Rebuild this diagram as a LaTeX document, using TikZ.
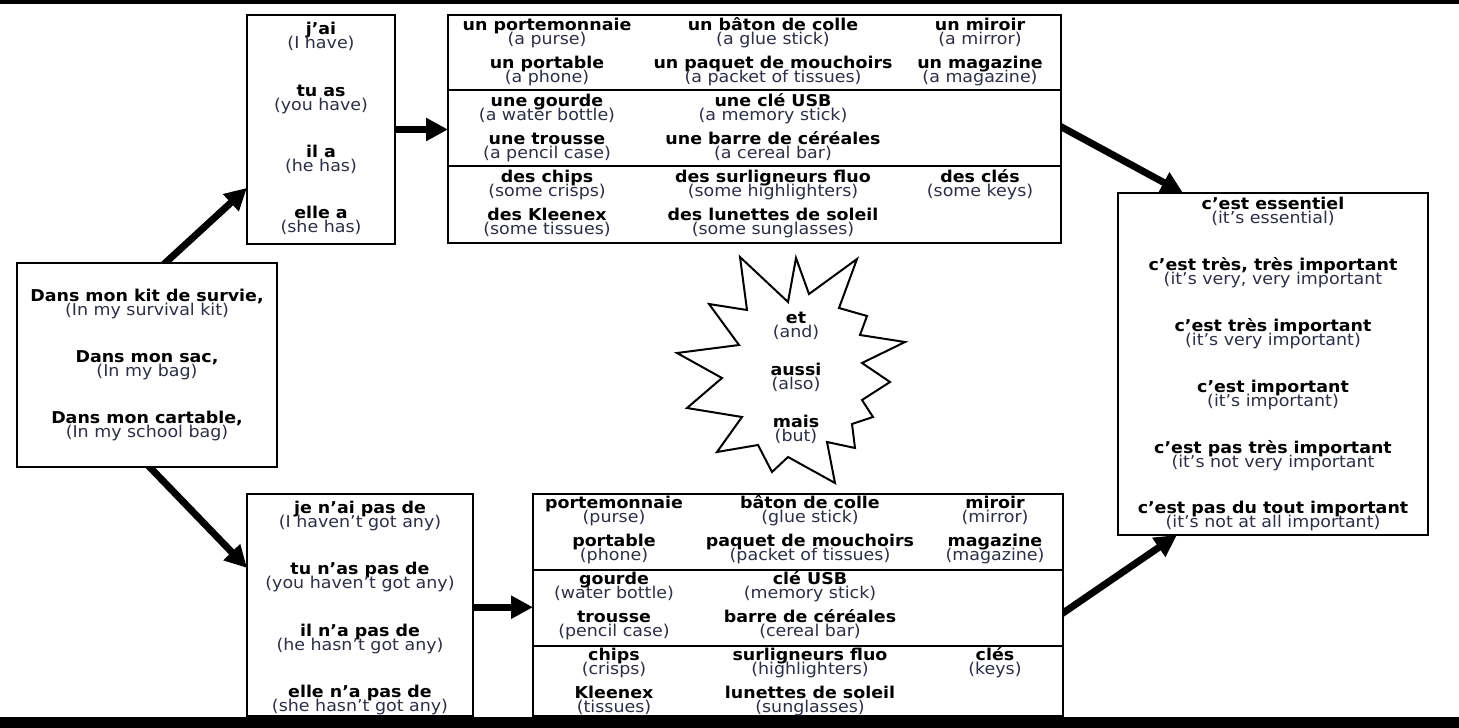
\documentclass[tikz,border=0pt]{standalone}
\usepackage{fontspec}
\setmainfont{DejaVu Sans}[FakeStretch=1.07]
\usetikzlibrary{arrows.meta,calc,backgrounds}
\definecolor{eng}{HTML}{2D2F45}
\newcommand\pr[5]{%
  \node[fr] (#1a) at (#2,#3) {#4};
  \node[en] (#1b) at (#2,#3+14.5) {#5};}
\begin{document}
\begin{tikzpicture}[x=1pt,y=-1pt,
  box/.style={draw=black,line width=2pt,rectangle,inner sep=0pt,outer sep=0pt,fill=white},
  fr/.style={font=\fontsize{16.3}{16.3}\selectfont\bfseries,inner sep=0pt,anchor=base,text=black},
  en/.style={font=\fontsize{16.3}{16.3}\selectfont,inner sep=0pt,anchor=base,text=eng},
  arr/.style={line width=7pt,shorten <=-6pt,-{Triangle[length=22pt,width=22pt]}},
  rule/.style={line width=2pt}]
\useasboundingbox (0,0) rectangle (1459,728);
% rules
\fill[black] (0,0) rectangle (1459,4);
\fill[black] (0,717) rectangle (1459,728);
% boxes
\node[box,minimum width=260,minimum height=204] (src) at (147,365) {};
\node[box,minimum width=148,minimum height=229] (have) at (321,129.5) {};
\node[box,minimum width=226,minimum height=222] (neg) at (360,605) {};
\node[box,minimum width=613,minimum height=228] (tab1) at (754.5,129) {};
\node[box,minimum width=530,minimum height=222] (tab2) at (798,605) {};
\node[box,minimum width=310,minimum height=342] (imp) at (1273,364) {};
% dividers
\draw[rule] (tab1.west |- 0,90) -- (tab1.east |- 0,90);
\draw[rule] (tab1.west |- 0,166) -- (tab1.east |- 0,166);
\draw[rule] (tab2.west |- 0,570) -- (tab2.east |- 0,570);
\draw[rule] (tab2.west |- 0,646) -- (tab2.east |- 0,646);
% star
\draw[line width=2pt,line join=miter,fill=white]
 (740,257) -- (788,302) -- (796,258) -- (809,294) -- (857,259) -- (839,308)
 -- (867,316) -- (860,335) -- (905,342) -- (862,363) -- (890,382) -- (862,400)
 -- (873,417) -- (852,424) -- (855,448) -- (827,442) -- (835,483) -- (788,457)
 -- (772,472) -- (758,445) -- (717,452) -- (742,417) -- (687,408) -- (722,378)
 -- (677,353) -- (739,345) -- (709,304) -- (747,310) -- cycle;
% arrows
\begin{scope}[on background layer]
\draw[arr] ($(src.north west)!0.57!(src.north east)$) -- ($(have.north west)!0.755!(have.south west)$);
\draw[arr] ($(src.south west)!0.51!(src.south east)$) -- ($(neg.north west)!0.333!(neg.south west)$);
\draw[arr] ($(have.north east)!0.5!(have.south east)$) coordinate (h1) -- (h1 -| tab1.west);
\draw[arr] ($(neg.north east)!0.51!(neg.south east)$) coordinate (h2) -- (h2 -| tab2.west);
\draw[arr] ($(tab1.north east)!0.49!(tab1.south east)$) -- ($(imp.north west)!0.21!(imp.north east)$);
\draw[arr] ($(tab2.north east)!0.536!(tab2.south east)$) -- ($(imp.south west)!0.19!(imp.south east)$);
\end{scope}
% left box
\pr{l1}{147}{301}{Dans mon kit de survie,}{(In my survival kit)}
\pr{l2}{147}{362}{Dans mon sac,}{(In my bag)}
\pr{l3}{147}{423}{Dans mon cartable,}{(In my school bag)}
% have
\pr{h1}{321}{34}{j'ai}{(I have)}
\pr{h2}{321}{96}{tu as}{(you have)}
\pr{h3}{321}{157}{il a}{(he has)}
\pr{h4}{321}{218}{elle a}{(she has)}
% neg
\pr{n1}{360}{513}{je n'ai pas de}{(I haven't got any)}
\pr{n2}{360}{574}{tu n'as pas de}{(you haven't got any)}
\pr{n3}{360}{636}{il n'a pas de}{(he hasn't got any)}
\pr{n4}{360}{697}{elle n'a pas de}{(she hasn't got any)}
% table 1
\pr{ta1}{547}{30}{un portemonnaie}{(a purse)}
\pr{ta2}{773}{30}{un bâton de colle}{(a glue stick)}
\pr{ta3}{980}{30}{un miroir}{(a mirror)}
\pr{ta4}{547}{68}{un portable}{(a phone)}
\pr{ta5}{773}{68}{un paquet de mouchoirs}{(a packet of tissues)}
\pr{ta6}{980}{68}{un magazine}{(a magazine)}
\pr{ta7}{547}{106}{une gourde}{(a water bottle)}
\pr{ta8}{773}{106}{une clé USB}{(a memory stick)}
\pr{ta9}{547}{144}{une trousse}{(a pencil case)}
\pr{ta10}{773}{144}{une barre de céréales}{(a cereal bar)}
\pr{ta11}{547}{182}{des chips}{(some crisps)}
\pr{ta12}{773}{182}{des surligneurs fluo}{(some highlighters)}
\pr{ta13}{980}{182}{des clés}{(some keys)}
\pr{ta14}{547}{220}{des Kleenex}{(some tissues)}
\pr{ta15}{773}{220}{des lunettes de soleil}{(some sunglasses)}
% table 2
\pr{tb1}{614}{508}{portemonnaie}{(purse)}
\pr{tb2}{810}{508}{bâton de colle}{(glue stick)}
\pr{tb3}{995}{508}{miroir}{(mirror)}
\pr{tb4}{614}{546}{portable}{(phone)}
\pr{tb5}{810}{546}{paquet de mouchoirs}{(packet of tissues)}
\pr{tb6}{995}{546}{magazine}{(magazine)}
\pr{tb7}{614}{584}{gourde}{(water bottle)}
\pr{tb8}{810}{584}{clé USB}{(memory stick)}
\pr{tb9}{614}{622}{trousse}{(pencil case)}
\pr{tb10}{810}{622}{barre de céréales}{(cereal bar)}
\pr{tb11}{614}{660}{chips}{(crisps)}
\pr{tb12}{810}{660}{surligneurs fluo}{(highlighters)}
\pr{tb13}{995}{660}{clés}{(keys)}
\pr{tb14}{614}{698}{Kleenex}{(tissues)}
\pr{tb15}{810}{698}{lunettes de soleil}{(sunglasses)}
% star
\pr{s1}{796}{323}{et}{(and)}
\pr{s2}{796}{375}{aussi}{(also)}
\pr{s3}{796}{427}{mais}{(but)}
% importance
\pr{i1}{1273}{209}{c'est essentiel}{(it's essential)}
\pr{i2}{1273}{270}{c'est très, très important}{(it's very, very important}
\pr{i3}{1273}{331}{c'est très important}{(it's very important)}
\pr{i4}{1273}{392}{c'est important}{(it's important)}
\pr{i5}{1273}{453}{c'est pas très important}{(it's not very important}
\pr{i6}{1273}{513}{c'est pas du tout important}{(it's not at all important)}
\end{tikzpicture}
\end{document}
